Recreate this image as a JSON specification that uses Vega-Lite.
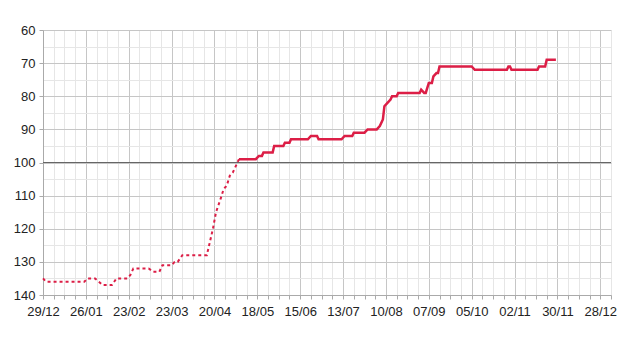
{
  "$schema": "https://vega.github.io/schema/vega-lite/v6.json",
  "autosize": "none",
  "width": 568,
  "height": 265,
  "padding": {"left": 43, "top": 30, "right": 32, "bottom": 45},
  "background": "white",
  "config": {
    "view": {"stroke": null},
    "font": "Liberation Sans",
    "axis": {"labelFont": "Liberation Sans", "labelFontSize": 13, "labelColor": "#222222", "domainColor": "#aaaaaa", "tickColor": "#aaaaaa", "gridOpacity": 1, "title": null}
  },
  "data": {"values": [
    {"d": "2024-12-29", "v": 135, "s": "a"},
    {"d": "2024-12-31", "v": 136, "s": "a"},
    {"d": "2025-01-25", "v": 136, "s": "a"},
    {"d": "2025-01-27", "v": 135, "s": "a"},
    {"d": "2025-02-01", "v": 135, "s": "a"},
    {"d": "2025-02-06", "v": 137, "s": "a"},
    {"d": "2025-02-12", "v": 137, "s": "a"},
    {"d": "2025-02-15", "v": 135, "s": "a"},
    {"d": "2025-02-22", "v": 135, "s": "a"},
    {"d": "2025-02-24", "v": 134, "s": "a"},
    {"d": "2025-02-26", "v": 132, "s": "a"},
    {"d": "2025-03-08", "v": 132, "s": "a"},
    {"d": "2025-03-11", "v": 133, "s": "a"},
    {"d": "2025-03-15", "v": 133, "s": "a"},
    {"d": "2025-03-17", "v": 131, "s": "a"},
    {"d": "2025-03-23", "v": 131, "s": "a"},
    {"d": "2025-03-25", "v": 130, "s": "a"},
    {"d": "2025-03-27", "v": 130, "s": "a"},
    {"d": "2025-03-30", "v": 128, "s": "a"},
    {"d": "2025-04-15", "v": 128, "s": "a"},
    {"d": "2025-04-17", "v": 124, "s": "a"},
    {"d": "2025-04-19", "v": 120, "s": "a"},
    {"d": "2025-04-21", "v": 115, "s": "a"},
    {"d": "2025-04-24", "v": 111, "s": "a"},
    {"d": "2025-04-26", "v": 108, "s": "a"},
    {"d": "2025-04-28", "v": 107, "s": "a"},
    {"d": "2025-04-30", "v": 104, "s": "a"},
    {"d": "2025-05-02", "v": 103, "s": "a"},
    {"d": "2025-05-04", "v": 101, "s": "a"},
    {"d": "2025-05-06", "v": 99, "s": "a"},
    {"d": "2025-05-06", "v": 99, "s": "b"},
    {"d": "2025-05-17", "v": 99, "s": "b"},
    {"d": "2025-05-19", "v": 98, "s": "b"},
    {"d": "2025-05-21", "v": 98, "s": "b"},
    {"d": "2025-05-22", "v": 97, "s": "b"},
    {"d": "2025-05-28", "v": 97, "s": "b"},
    {"d": "2025-05-29", "v": 95, "s": "b"},
    {"d": "2025-06-04", "v": 95, "s": "b"},
    {"d": "2025-06-05", "v": 94, "s": "b"},
    {"d": "2025-06-08", "v": 94, "s": "b"},
    {"d": "2025-06-09", "v": 93, "s": "b"},
    {"d": "2025-06-20", "v": 93, "s": "b"},
    {"d": "2025-06-22", "v": 92, "s": "b"},
    {"d": "2025-06-26", "v": 92, "s": "b"},
    {"d": "2025-06-27", "v": 93, "s": "b"},
    {"d": "2025-07-12", "v": 93, "s": "b"},
    {"d": "2025-07-14", "v": 92, "s": "b"},
    {"d": "2025-07-19", "v": 92, "s": "b"},
    {"d": "2025-07-20", "v": 91, "s": "b"},
    {"d": "2025-07-27", "v": 91, "s": "b"},
    {"d": "2025-07-29", "v": 90, "s": "b"},
    {"d": "2025-08-04", "v": 90, "s": "b"},
    {"d": "2025-08-06", "v": 89, "s": "b"},
    {"d": "2025-08-08", "v": 87, "s": "b"},
    {"d": "2025-08-09", "v": 83, "s": "b"},
    {"d": "2025-08-11", "v": 82, "s": "b"},
    {"d": "2025-08-13", "v": 81, "s": "b"},
    {"d": "2025-08-14", "v": 80, "s": "b"},
    {"d": "2025-08-17", "v": 80, "s": "b"},
    {"d": "2025-08-18", "v": 79, "s": "b"},
    {"d": "2025-09-01", "v": 79, "s": "b"},
    {"d": "2025-09-02", "v": 78, "s": "b"},
    {"d": "2025-09-04", "v": 79, "s": "b"},
    {"d": "2025-09-05", "v": 79, "s": "b"},
    {"d": "2025-09-07", "v": 76, "s": "b"},
    {"d": "2025-09-09", "v": 76, "s": "b"},
    {"d": "2025-09-10", "v": 74, "s": "b"},
    {"d": "2025-09-12", "v": 73, "s": "b"},
    {"d": "2025-09-13", "v": 73, "s": "b"},
    {"d": "2025-09-14", "v": 71, "s": "b"},
    {"d": "2025-10-05", "v": 71, "s": "b"},
    {"d": "2025-10-07", "v": 72, "s": "b"},
    {"d": "2025-10-28", "v": 72, "s": "b"},
    {"d": "2025-10-29", "v": 71, "s": "b"},
    {"d": "2025-10-30", "v": 71, "s": "b"},
    {"d": "2025-10-31", "v": 72, "s": "b"},
    {"d": "2025-11-17", "v": 72, "s": "b"},
    {"d": "2025-11-18", "v": 71, "s": "b"},
    {"d": "2025-11-22", "v": 71, "s": "b"},
    {"d": "2025-11-23", "v": 69, "s": "b"},
    {"d": "2025-11-29", "v": 69, "s": "b"}
  ]},
  "encoding": {
    "x": {
      "field": "d", "type": "temporal",
      "scale": {"type": "utc", "domain": [1735430400000, 1767484800000], "nice": false},
      "axis": {
        "tickCount": {"interval": "week", "step": 1},
        "labelExpr": "round((datum.value - 1735430400000) / 604800000) % 4 === 0 ? utcFormat(datum.value, '%d/%m') : ''",
        "labelOverlap": false,
        "labelFlush": false,
        "grid": true,
        "gridColor": {"condition": {"test": "round((datum.value - 1735430400000) / 604800000) % 4 === 0", "value": "#c6c6c6"}, "value": "#e6e6e6"},
        "tickSize": 4,
        "labelPadding": 6
      }
    },
    "y": {
      "field": "v", "type": "quantitative",
      "scale": {"domain": [60, 140], "reverse": true, "nice": false, "zero": false},
      "axis": {
        "values": [60, 65, 70, 75, 80, 85, 90, 95, 100, 105, 110, 115, 120, 125, 130, 135, 140],
        "labelExpr": "datum.value % 10 === 0 ? datum.label : ''",
        "grid": true,
        "gridColor": {"condition": {"test": "datum.value % 10 === 0", "value": "#c6c6c6"}, "value": "#e6e6e6"},
        "tickColor": {"condition": {"test": "datum.value % 10 === 0", "value": "#aaaaaa"}, "value": "transparent"},
        "tickSize": 4,
        "labelPadding": 4
      }
    }
  },
  "layer": [
    {
      "mark": {"type": "rule", "color": "#666666", "strokeWidth": 1},
      "encoding": {"y": {"datum": 100}, "x": null}
    },
    {
      "transform": [{"filter": "datum.s === 'a'"}],
      "mark": {"type": "line", "color": "#dc1e46", "strokeWidth": 2, "strokeDash": [3, 3]}
    },
    {
      "transform": [{"filter": "datum.s === 'b'"}],
      "mark": {"type": "line", "color": "#dc1e46", "strokeWidth": 2.5}
    }
  ]
}
